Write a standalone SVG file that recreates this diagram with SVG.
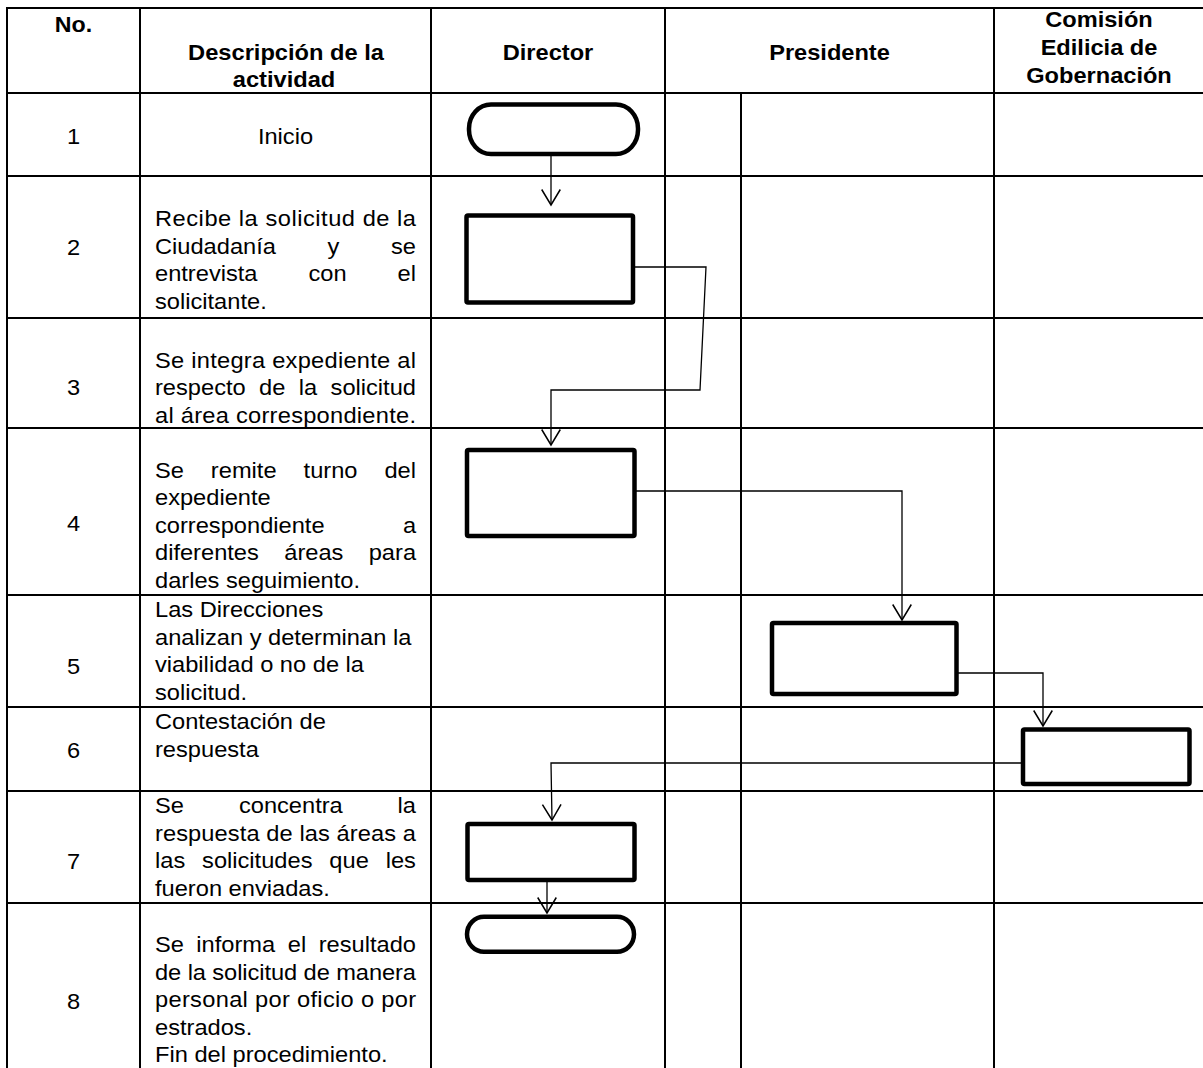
<svg xmlns="http://www.w3.org/2000/svg" width="1203" height="1068" viewBox="0 0 1203 1068">
<style>
.t{font-family:"Liberation Sans",Arial,sans-serif;font-size:21.5px;fill:#000}
.h{font-family:"Liberation Sans",Arial,sans-serif;font-size:22.5px;font-weight:bold;fill:#000;text-anchor:middle}
.b{font-weight:bold}
.c{text-anchor:middle}
.grid line{stroke:#000;stroke-width:2}
.box{fill:#fff;stroke:#000;stroke-width:4.5;stroke-linejoin:round}
.conn path{fill:none;stroke:#000;stroke-width:1.3}
</style>
<defs>
<marker id="arr" markerUnits="userSpaceOnUse" orient="auto" refX="0" refY="0" markerWidth="20" markerHeight="20" overflow="visible">
<path d="M-15.5,-9.3 L0,0 L-15.5,9.3" fill="none" stroke="#000" stroke-width="1.5"/>
</marker>
</defs>
<rect width="1203" height="1068" fill="#fff"/>
<g class="grid">
<line x1="6" y1="8" x2="1203" y2="8"/>
<line x1="6" y1="93" x2="1203" y2="93"/>
<line x1="6" y1="176" x2="1203" y2="176"/>
<line x1="6" y1="318" x2="1203" y2="318"/>
<line x1="6" y1="428" x2="1203" y2="428"/>
<line x1="6" y1="595" x2="1203" y2="595"/>
<line x1="6" y1="707" x2="1203" y2="707"/>
<line x1="6" y1="791" x2="1203" y2="791"/>
<line x1="6" y1="903" x2="1203" y2="903"/>
<line x1="7" y1="7" x2="7" y2="1068"/>
<line x1="140" y1="7" x2="140" y2="1068"/>
<line x1="431" y1="7" x2="431" y2="1068"/>
<line x1="665" y1="7" x2="665" y2="1068"/>
<line x1="741" y1="93" x2="741" y2="1068"/>
<line x1="994" y1="7" x2="994" y2="1068"/>
</g>
<g id="header">
<text class="t b c" transform="translate(73.5,32) scale(1.08,1)">No.</text>
<text class="t b c" transform="translate(286,60) scale(1.1,1)">Descripción de la</text>
<text class="t b c" transform="translate(284,87) scale(1.1,1)">actividad</text>
<text class="h" transform="translate(548,60) scale(1.05,1)">Director</text>
<text class="h" transform="translate(829.5,60) scale(1.05,1)">Presidente</text>
<text class="h" transform="translate(1099,27) scale(1.05,1)">Comisión</text>
<text class="h" transform="translate(1099,55) scale(1.05,1)">Edilicia de</text>
<text class="h" transform="translate(1099,83) scale(1.05,1)">Gobernación</text>
</g>
<g id="rows">
<text class="t c" transform="translate(73.5,144) scale(1.1,1)">1</text>
<text class="t c" transform="translate(285.5,144) scale(1.1,1)">Inicio</text>
<text class="t c" transform="translate(73.5,255) scale(1.1,1)">2</text>
<text class="t" transform="translate(155,226.1) scale(1.1,1)" textLength="237.3" lengthAdjust="spacing">Recibe la solicitud de la</text>
<text class="t" transform="translate(155,253.6) scale(1.1,1)">Ciudadanía<tspan x="156.9">y</tspan><tspan x="214.5">se</tspan></text>
<text class="t" transform="translate(155,281.1) scale(1.1,1)">entrevista<tspan x="139.5">con</tspan><tspan x="220.5">el</tspan></text>
<text class="t" transform="translate(155,308.6) scale(1.1,1)">solicitante.</text>
<text class="t c" transform="translate(73.5,395) scale(1.1,1)">3</text>
<text class="t" transform="translate(155,367.8) scale(1.1,1)" textLength="237.3" lengthAdjust="spacing">Se integra expediente al</text>
<text class="t" transform="translate(155,395.3) scale(1.1,1)">respecto<tspan x="94.6">de</tspan><tspan x="130.7">la</tspan><tspan x="159.6">solicitud</tspan></text>
<text class="t" transform="translate(155,422.8) scale(1.1,1)" textLength="237.3" lengthAdjust="spacing">al área correspondiente.</text>
<text class="t c" transform="translate(73.5,531) scale(1.1,1)">4</text>
<text class="t" transform="translate(155,477.8) scale(1.1,1)">Se<tspan x="50.8">remite</tspan><tspan x="135.1">turno</tspan><tspan x="208.6">del</tspan></text>
<text class="t" transform="translate(155,505.3) scale(1.1,1)">expediente</text>
<text class="t" transform="translate(155,532.8) scale(1.1,1)">correspondiente<tspan x="225.4">a</tspan></text>
<text class="t" transform="translate(155,560.3) scale(1.1,1)">diferentes<tspan x="117.5">áreas</tspan><tspan x="194.3">para</tspan></text>
<text class="t" transform="translate(155,587.8) scale(1.1,1)">darles seguimiento.</text>
<text class="t c" transform="translate(73.5,674.3) scale(1.1,1)">5</text>
<text class="t" transform="translate(155,617.3) scale(1.1,1)">Las Direcciones</text>
<text class="t" transform="translate(155,644.8) scale(1.1,1)">analizan y determinan la</text>
<text class="t" transform="translate(155,672.3) scale(1.1,1)">viabilidad o no de la</text>
<text class="t" transform="translate(155,699.8) scale(1.1,1)">solicitud.</text>
<text class="t c" transform="translate(73.5,758.3) scale(1.1,1)">6</text>
<text class="t" transform="translate(155,729.3) scale(1.1,1)">Contestación de</text>
<text class="t" transform="translate(155,756.8) scale(1.1,1)">respuesta</text>
<text class="t c" transform="translate(73.5,869.3) scale(1.1,1)">7</text>
<text class="t" transform="translate(155,813.3) scale(1.1,1)">Se<tspan x="76.3">concentra</tspan><tspan x="220.5">la</tspan></text>
<text class="t" transform="translate(155,840.8) scale(1.1,1)" textLength="237.3" lengthAdjust="spacing">respuesta de las áreas a</text>
<text class="t" transform="translate(155,868.3) scale(1.1,1)">las<tspan x="42.8">solicitudes</tspan><tspan x="158.5">que</tspan><tspan x="209.7">les</tspan></text>
<text class="t" transform="translate(155,895.8) scale(1.1,1)">fueron enviadas.</text>
<text class="t c" transform="translate(73.5,1009) scale(1.1,1)">8</text>
<text class="t" transform="translate(155,952.3) scale(1.1,1)">Se<tspan x="37.6">informa</tspan><tspan x="120.7">el</tspan><tspan x="148.8">resultado</tspan></text>
<text class="t" transform="translate(155,979.8) scale(1.1,1)" textLength="237.3" lengthAdjust="spacing">de la solicitud de manera</text>
<text class="t" transform="translate(155,1007.3) scale(1.1,1)" textLength="237.3" lengthAdjust="spacing">personal por oficio o por</text>
<text class="t" transform="translate(155,1034.8) scale(1.1,1)">estrados.</text>
<text class="t" transform="translate(155,1062.3) scale(1.1,1)">Fin del procedimiento.</text>
</g>
<g class="conn" id="connectors">
<path d="M551,156 V205" marker-end="url(#arr)"/>
<path d="M635,267 H706 L700,390 H551 V445" marker-end="url(#arr)"/>
<path d="M636,491 H902 V620" marker-end="url(#arr)"/>
<path d="M958,673 H1043 V726" marker-end="url(#arr)"/>
<path d="M1021,763 H551 L552,820" marker-end="url(#arr)"/>
<path d="M547,882 V913" marker-end="url(#arr)"/>
</g>
<g id="n1"><rect class="box" x="469" y="104.5" width="169" height="49.5" rx="22" ry="24"/></g>
<g id="n2"><rect class="box" x="466.5" y="215.5" width="166.5" height="87" rx="1.5"/></g>
<g id="n4"><rect class="box" x="467" y="450" width="167.5" height="86" rx="1.5"/></g>
<g id="n5"><rect class="box" x="772" y="623" width="184.5" height="71" rx="1.5"/></g>
<g id="n6"><rect class="box" x="1023" y="729.5" width="166.5" height="54.5" rx="1.5"/></g>
<g id="n7"><rect class="box" x="467.5" y="824" width="167" height="56" rx="1.5"/></g>
<g id="n8"><rect class="box" x="467" y="916.7" width="167" height="35" rx="17" ry="17.5"/></g>
</svg>
